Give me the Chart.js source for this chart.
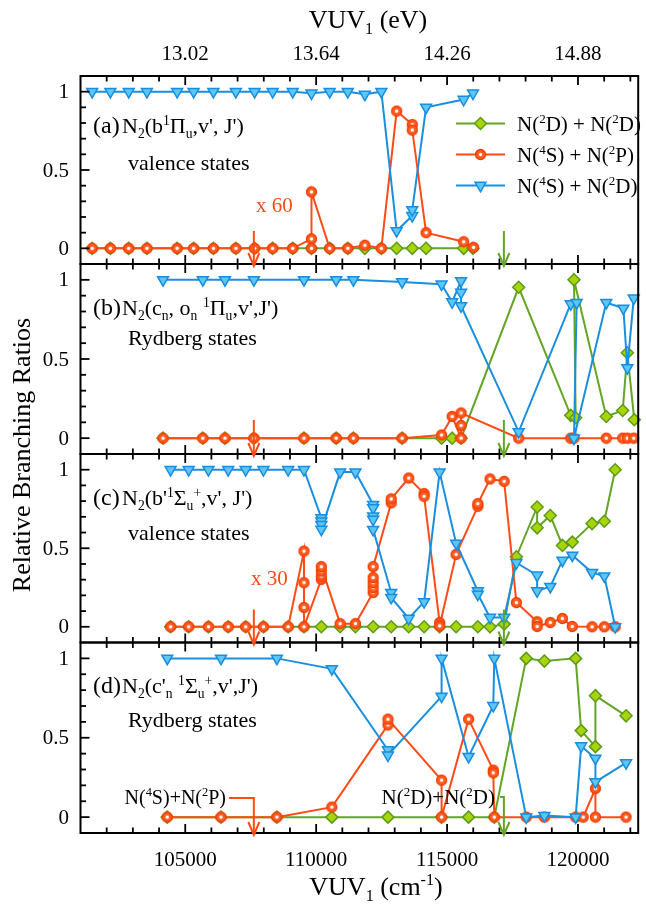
<!DOCTYPE html>
<html>
<head>
<meta charset="utf-8">
<script src="https://cdn.jsdelivr.net/npm/chart.js@4.4.0/dist/chart.umd.min.js"></script>
<style>
  html, body { margin: 0; padding: 0; background: #fff; }
  #wrap { position: relative; width: 646px; height: 905px; }
  #wrap canvas { position: absolute; left: 0; top: 0; }
</style>
</head>
<body>
<div id="wrap">
  <canvas id="pd" width="646" height="905"></canvas>
  <canvas id="pc" width="646" height="905"></canvas>
  <canvas id="pb" width="646" height="905"></canvas>
  <canvas id="pa" width="646" height="905"></canvas>
</div>
<script>
// axis / ticks
const X_MIN = 101000, X_MAX = 122300;
const xMajor = [105000, 110000, 115000, 120000];
const xMajorLabels = ['105000', '110000', '115000', '120000'];
const eVLabels = ['13.02', '13.64', '14.26', '14.88'];
const yMajor = [0, 0.5, 1];
const yMajorLabels = ['0', '0.5', '1'];
const RED_ARROW = 107620, GREEN_ARROW = 117170;

// (a) b1Pi_u valence states  [VUV1 cm-1, ratio]
const aGreen = [[101445,0],[102140,0],[102841,0],[103536,0],[104690,0],[105320,0],[106075,0],[106932,0],[107649,0],[108339,0],[109105,0],[109822,0],[110516,0],[111207,0],[111860,0],[112490,0],[113075,0],[113671,0],[114199,0],[115633,0],[115991,0]];
const aOrange = [[101445,0],[102140,0],[102841,0],[103536,0],[104690,0],[105320,0],[106075,0],[106932,0],[107649,0],[108339,0],[109105,0],[109822,0.06],[109822,0],[109822,0.36],[110516,0],[111207,0],[111860,0.02],[112490,0],[113075,0.876],[113671,0.79],[113671,0.755],[114199,0.10],[115633,0.042],[116010,0.006]];
const aBlue = [[101445,1],[102140,1],[102841,1],[103536,1],[104690,1],[105320,1],[106075,1],[106932,1],[107649,1],[108339,1],[109105,1],[109822,0.99],[110516,1],[111207,1],[111860,0.983],[112490,1],[113075,0.112],[113671,0.208],[113671,0.246],[114199,0.90],[115633,0.95],[115991,0.99]];

// (b) cn, on 1Pi_u Rydberg states
const bGreen = [[104151,0],[105671,0],[106517,0],[107622,0],[109535,0],[110765,0],[111422,0],[113282,0],[114791,0],[115195,0],[115535,0],[117735,0.953],[119723,0.144],[119912,0.129],[119848,1],[121081,0.137],[121708,0.175],[121885,0.539],[122150,0.116]];
const bOrange = [[104151,0],[105671,0],[106517,0],[107622,0],[109535,0],[110765,0],[111422,0],[113282,0],[114791,0.02],[115195,0.137],[115535,0],[115535,0.08],[115535,0.159],[117735,0],[119723,0],[119848,0],[121081,0],[121708,0],[121885,0],[122130,0]];
const bBlue = [[104151,1],[105671,1],[106517,1],[107622,1],[109535,1],[110765,1],[111422,1],[113282,0.987],[114791,0.972],[115195,0.86],[115535,0.994],[115535,0.92],[115535,0.835],[117735,0.04],[119723,0.848],[119949,0.856],[119848,0],[121081,0.856],[121734,0.82],[121885,0.444],[122130,0.884]];

// (c) b'1Sigma_u+ valence states
const cGreen = [[104441,0],[105132,0],[105887,0],[106641,0],[107309,0],[107988,0],[108931,0],[109535,0],[110199,0],[110916,0],[111501,0],[112177,0],[112867,0],[113535,0],[114123,0],[114716,0],[115346,0],[116176,0],[116640,0],[117180,0.017],[117648,0.446],[118440,0.763],[118440,0.63],[118942,0.708],[119406,0.518],[119783,0.539],[120538,0.657],[121006,0.672],[121421,1]];
const cOrange = [[104441,0],[105132,0],[105887,0],[106641,0],[107309,0],[107988,0],[108931,0],[109535,0.482],[109535,0.281],[109535,0.123],[109535,0],[110199,0.302],[110199,0.323],[110199,0.355],[110199,0.383],[110916,0.02],[111501,0.02],[112177,0.218],[112177,0.249],[112177,0.281],[112177,0.313],[112177,0.383],[112867,0.789],[112867,0.814],[113535,0.947],[114123,0.848],[114123,0.831],[114716,0.027],[114716,0.006],[115346,0.461],[116176,0.767],[116176,0.784],[116640,0.941],[117180,0.926],[117648,0.154],[118440,0.032],[118440,0.002],[118942,0.027],[119406,0.053],[119783,0.002],[120538,0],[121006,0],[121421,0]];
const cBlue = [[104441,1],[105132,1],[105887,1],[106641,1],[107309,1],[107988,1],[108931,1],[109535,1],[110199,0.693],[110199,0.672],[110199,0.651],[110199,0.62],[110916,0.985],[111501,0.985],[112177,0.778],[112177,0.757],[112177,0.704],[112177,0.683],[112177,0.619],[112867,0.218],[112867,0.186],[113535,0.053],[114123,0.159],[114716,0.985],[115346,0.531],[116176,0.228],[116176,0.207],[116640,0.059],[117180,0.059],[117648,0.408],[118440,0.328],[118440,0.228],[118942,0.256],[119406,0.423],[119783,0.455],[120538,0.345],[121006,0.323],[121421,0]];

// (d) c'n 1Sigma_u+ Rydberg states
const dGreen = [[104313,0],[106366,0],[108501,0],[110600,0],[112742,0],[114791,0],[115822,0],[116803,0],[118025,1],[118716,0.983],[119911,1],[120122,0.545],[120666,0.444],[120666,0.765],[121836,0.638]];
const dOrange = [[104313,0],[106366,0],[108501,0],[110600,0.063],[112742,0.581],[112742,0.617],[114791,0.233],[114791,0],[115822,0.617],[116765,0.296],[116765,0.279],[116803,0],[118025,0],[118716,0],[119911,0],[120200,0],[120666,0.18],[120666,0],[121836,0]];
const dBlue = [[104313,1],[106366,1],[108501,1],[110600,0.934],[112742,0.423],[112742,0.39],[114791,0.761],[114791,1],[115822,0.381],[116765,0.702],[116803,1],[118025,0],[118716,0.01],[119911,0],[120122,0.448],[120666,0.37],[120666,0.222],[121836,0.342]];

const PLOT_L = 80.5, PLOT_R = 645;
const BOX = { pa: [76, 264], pb: [264, 454], pc: [454, 642.5], pd: [642.5, 833] };
const FONT = '"Liberation Serif", "Times New Roman", serif';

const COL = {
  green: { line: '#63a524', fill: '#a9d40c', edge: '#5c9b1b' },
  orange: { line: '#ff4c16', fill: '#ff5d22', edge: '#f23d05' },
  blue: { line: '#1b8fdf', fill: '#5cc7f2', edge: '#1a8de0' }
};

// orange circle with white centre
function makeDot() {
  const c = document.createElement('canvas');
  c.width = 13; c.height = 13;
  const g = c.getContext('2d');
  g.beginPath(); g.arc(6.5, 6.5, 5, 0, Math.PI * 2);
  g.fillStyle = COL.orange.fill; g.fill();
  g.lineWidth = 1.3; g.strokeStyle = COL.orange.edge; g.stroke();
  g.beginPath(); g.arc(6.5, 6.5, 1.7, 0, Math.PI * 2);
  g.fillStyle = '#fff'; g.fill();
  return c;
}
const dotImg = makeDot();

function series(pts, kind) {
  const c = COL[kind];
  const ds = {
    data: pts.map(p => ({ x: p[0], y: p[1] })),
    borderColor: c.line, borderWidth: 2, tension: 0, clip: false,
    pointBackgroundColor: c.fill, pointBorderColor: c.edge, pointBorderWidth: 1.5
  };
  if (kind === 'green') { ds.pointStyle = 'rectRot'; ds.pointRadius = 6; ds.order = 2; }
  if (kind === 'orange') { ds.pointStyle = dotImg; ds.pointRadius = 6; ds.order = 1; }
  if (kind === 'blue') { ds.pointStyle = 'triangle'; ds.pointRotation = 180; ds.pointRadius = 6.3; ds.order = 0; }
  return ds;
}

// text with _sub and ^sup pieces
function rich(ctx, parts, x, y, size, align, color) {
  const segs = parts.map(p => {
    let k = 0, t = p;
    if (p[0] === '_') { k = 1; t = p.slice(1); }
    else if (p[0] === '^') { k = 2; t = p.slice(1); }
    const fs = k ? size * 0.62 : size;
    ctx.font = fs + 'px ' + FONT;
    return { t, k, fs, w: ctx.measureText(t).width };
  });
  const total = segs.reduce((s, g) => s + g.w, 0);
  let cx = align === 'right' ? x - total : align === 'center' ? x - total / 2 : x;
  ctx.fillStyle = color || '#000';
  ctx.textAlign = 'left';
  ctx.textBaseline = 'alphabetic';
  segs.forEach(g => {
    ctx.font = g.fs + 'px ' + FONT;
    const dy = g.k === 1 ? size * 0.24 : g.k === 2 ? -size * 0.38 : 0;
    ctx.fillText(g.t, cx, y + dy);
    cx += g.w;
  });
}

function seg(ctx, x1, y1, x2, y2) {
  ctx.beginPath(); ctx.moveTo(x1, y1); ctx.lineTo(x2, y2); ctx.stroke();
}

function arrow(ctx, x, yTop, yTip, color, fromX) {
  ctx.save();
  ctx.strokeStyle = color; ctx.lineWidth = 2;
  ctx.beginPath();
  if (fromX !== undefined) { ctx.moveTo(fromX, yTop); ctx.lineTo(x, yTop); }
  else ctx.moveTo(x, yTop);
  ctx.lineTo(x, yTip);
  ctx.stroke();
  ctx.beginPath();
  ctx.moveTo(x - 5.5, yTip - 12); ctx.lineTo(x, yTip + 1); ctx.lineTo(x + 5.5, yTip - 12);
  ctx.stroke();
  ctx.restore();
}

const deco = {
  id: 'deco',
  afterDraw(chart) {
    const { ctx, chartArea: a, scales: { x, y } } = chart;
    ctx.save();
    ctx.strokeStyle = '#000';
    ctx.lineWidth = 1.8;
    for (let v = 102000; v <= 122000; v += 1000) {
      const px = x.getPixelForValue(v);
      const len = v % 5000 === 0 ? 9 : 5.5;
      seg(ctx, px, a.bottom, px, a.bottom - len);
      seg(ctx, px, a.top, px, a.top + len);
    }
    for (let i = 0; i <= 10; i++) {
      const py = y.getPixelForValue(i / 10);
      const len = (i % 5 === 0) ? 9 : 5.5;
      seg(ctx, a.left, py, a.left + len, py);
    }
    ctx.lineWidth = 2;
    ctx.strokeRect(a.left, a.top, a.right - a.left, a.bottom - a.top);
    ctx.fillStyle = '#000';
    ctx.font = '21px ' + FONT;
    ctx.textAlign = 'right';
    ctx.textBaseline = 'middle';
    yMajor.forEach((v, i) => ctx.fillText(yMajorLabels[i], 69, y.getPixelForValue(v) + 1));
    ctx.restore();
  }
};

function legendRow(ctx, kind, y, parts) {
  const c = COL[kind];
  ctx.save();
  ctx.strokeStyle = c.line; ctx.lineWidth = 2;
  seg(ctx, 456, y, 505, y);
  const mx = 480.5;
  ctx.fillStyle = c.fill; ctx.strokeStyle = c.edge; ctx.lineWidth = 1.5;
  if (kind === 'green') {
    ctx.beginPath(); ctx.moveTo(mx, y - 6); ctx.lineTo(mx + 6, y); ctx.lineTo(mx, y + 6); ctx.lineTo(mx - 6, y); ctx.closePath();
    ctx.fill(); ctx.stroke();
  } else if (kind === 'orange') {
    ctx.drawImage(dotImg, mx - 6.5, y - 6.5);
  } else {
    const r = 6.3;
    ctx.beginPath(); ctx.moveTo(mx, y + r); ctx.lineTo(mx + r * 0.866, y - r / 2); ctx.lineTo(mx - r * 0.866, y - r / 2); ctx.closePath();
    ctx.fill(); ctx.stroke();
  }
  ctx.restore();
  rich(ctx, parts, 517, y + 7.5, 21, 'left');
}

const extras = {
  id: 'extras',
  afterDraw(chart) {
    const { ctx, chartArea: a, scales: { x } } = chart;
    const id = chart.canvas.id;
    const rx = x.getPixelForValue(RED_ARROW), gx = x.getPixelForValue(GREEN_ARROW);
    ctx.save();
    if (id === 'pa') {
      rich(ctx, ['(a)'], 93, 133, 24, 'left');
      rich(ctx, ['N', '_2', '(b', '^1', 'Π', '_u', ',v\', J\')'], 122, 133, 22, 'left');
      rich(ctx, ['valence states'], 128, 170, 22, 'left');
      rich(ctx, ['x 60'], 256, 212, 21, 'left', COL.orange.line);
      arrow(ctx, rx, a.bottom - 33, a.bottom + 1, COL.orange.line);
      arrow(ctx, gx, a.bottom - 33, a.bottom + 1, COL.green.line);
      legendRow(ctx, 'green', 123.5, ['N(', '^2', 'D) + N(', '^2', 'D)']);
      legendRow(ctx, 'orange', 154.5, ['N(', '^4', 'S) + N(', '^2', 'P)']);
      legendRow(ctx, 'blue', 185.5, ['N(', '^4', 'S) + N(', '^2', 'D)']);
      // top axis in eV
      ctx.fillStyle = '#000'; ctx.font = '21px ' + FONT; ctx.textAlign = 'center'; ctx.textBaseline = 'alphabetic';
      xMajor.forEach((v, i) => ctx.fillText(eVLabels[i], x.getPixelForValue(v), 60));
      rich(ctx, ['VUV', '_1', ' (eV)'], 368, 28, 26, 'center');
    }
    if (id === 'pb') {
      rich(ctx, ['(b)'], 93, 315, 24, 'left');
      rich(ctx, ['N', '_2', '(c', '_n', ', o', '_n', ' ', '^1', 'Π', '_u', ',v\',J\')'], 122, 315, 22, 'left');
      rich(ctx, ['Rydberg states'], 128, 345, 22, 'left');
      arrow(ctx, rx, a.bottom - 34, a.bottom + 1, COL.orange.line);
      arrow(ctx, gx, a.bottom - 34, a.bottom + 1, COL.green.line);
    }
    if (id === 'pc') {
      rich(ctx, ['(c)'], 93, 505, 24, 'left');
      rich(ctx, ['N', '_2', '(b\'', '^1', 'Σ', '_u', '^+', ',v\', J\')'], 122, 505, 22, 'left');
      rich(ctx, ['valence states'], 128, 540, 22, 'left');
      rich(ctx, ['x 30'], 251, 585, 21, 'left', COL.orange.line);
      arrow(ctx, rx, a.bottom - 33, a.bottom + 1, COL.orange.line);
      arrow(ctx, gx, a.bottom - 33, a.bottom + 1, COL.green.line);
    }
    if (id === 'pd') {
      rich(ctx, ['(d)'], 93, 693, 24, 'left');
      rich(ctx, ['N', '_2', '(c\'', '_n', ' ', '^1', 'Σ', '_u', '^+', ',v\',J\')'], 122, 693, 22, 'left');
      rich(ctx, ['Rydberg states'], 128, 727, 22, 'left');
      rich(ctx, ['N(', '^4', 'S)+N(', '^2', 'P)'], 226, 804, 20, 'right');
      rich(ctx, ['N(', '^2', 'D)+N(', '^2', 'D)'], 495, 804, 21, 'right');
      arrow(ctx, rx, 798, a.bottom + 1, COL.orange.line, 229);
      arrow(ctx, gx, 797, a.bottom + 1, COL.green.line, 500);
      // bottom axis
      ctx.fillStyle = '#000'; ctx.font = '21px ' + FONT; ctx.textAlign = 'center'; ctx.textBaseline = 'alphabetic';
      xMajor.forEach((v, i) => ctx.fillText(xMajorLabels[i], x.getPixelForValue(v), 866));
      rich(ctx, ['VUV', '_1', ' (cm', '^-1', ')'], 376, 895, 26, 'center');
      // shared y title
      ctx.save();
      ctx.translate(30, 455);
      ctx.rotate(-Math.PI / 2);
      rich(ctx, ['Relative Branching Ratios'], 0, 0, 26, 'center');
      ctx.restore();
    }
    ctx.restore();
  }
};

function makePanel(id, green, orange, blue) {
  const box = BOX[id];
  return new Chart(document.getElementById(id), {
    type: 'line',
    data: { datasets: [series(blue, 'blue'), series(orange, 'orange'), series(green, 'green')] },
    options: {
      responsive: false,
      animation: false,
      events: [],
      layout: { padding: { left: PLOT_L, right: 646 - PLOT_R, top: box[0], bottom: 905 - box[1] } },
      scales: {
        x: { type: 'linear', min: X_MIN, max: X_MAX, display: false },
        y: { type: 'linear', min: -0.1, max: 1.1, display: false }
      },
      plugins: { legend: { display: false }, tooltip: { enabled: false } }
    },
    plugins: [deco, extras]
  });
}

makePanel('pd', dGreen, dOrange, dBlue);
makePanel('pc', cGreen, cOrange, cBlue);
makePanel('pb', bGreen, bOrange, bBlue);
makePanel('pa', aGreen, aOrange, aBlue);
</script>
</body>
</html>
